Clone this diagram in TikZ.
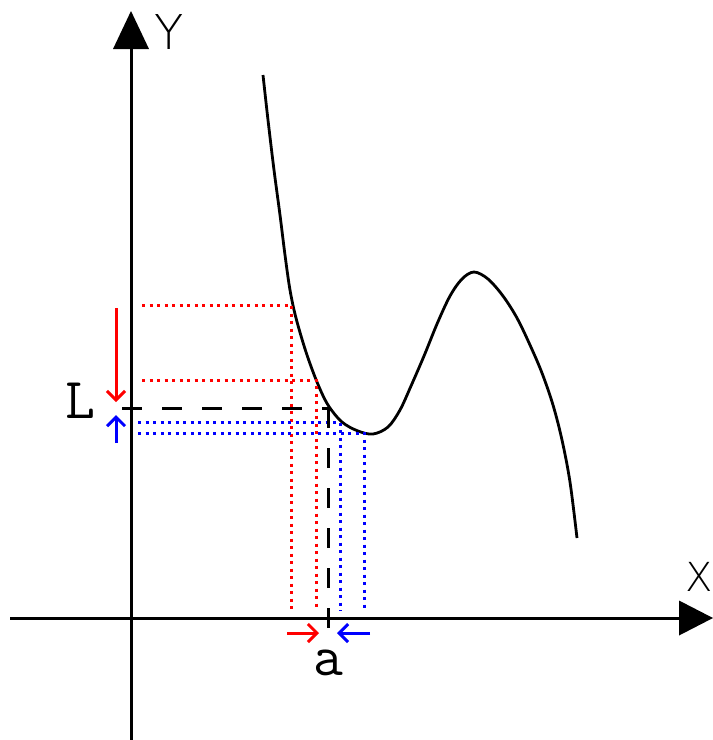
\documentclass[tikz,border=0pt]{standalone}
\usepackage{fontspec}
\newfontfamily\axisfont{DejaVu Sans ExtraLight}
\usetikzlibrary{arrows.meta}
\begin{document}
\begin{tikzpicture}[x=1pt, y=-1pt, line width=3pt, >={Straight Barb[length=9pt,width=18pt]}]
\useasboundingbox (0,0) rectangle (713,740);
\tikzset{
  guide/.style={line width=3pt, dash pattern=on 3pt off 4.5pt},
  limitline/.style={line width=3pt, dash pattern=on 20pt off 20pt},
  axislabel/.style={font=\axisfont\fontsize{48}{48}\selectfont, inner sep=0pt},
  letter/.style={font=\ttfamily\fontsize{58}{58}\selectfont, inner sep=0pt}
}
% axes
\coordinate (ybot) at (131,740);
\coordinate (ytop) at (131,11);
\coordinate (xleft) at (10,618);
\coordinate (xright) at (713,618);
\draw[-{Triangle[length=38pt,width=36pt,line width=0pt]}] (ybot) -- (ytop);
\draw[-{Triangle[length=34pt,width=35pt,line width=0pt]}] (xleft) -- (xright);
\node[axislabel] (ylab) at (169,32) {Y};
\node[axislabel, font=\axisfont\fontsize{40}{40}\selectfont] (xlab) at (699,577) {X};
% the function
\draw[line width=2.8pt] plot[smooth, tension=0.55] coordinates {(263,75) (268,120) (274,170)
  (280,215) (285,255) (290,290) (296,318) (306,352) (317,382) (328,405) (342,422) (358,431)
  (373,434) (388,427) (400,410) (411,386) (424,356) (437,324) (450,296) (462,279) (474,272)
  (488,279) (503,296) (517,318) (530,345) (542,373) (553,405) (562,440) (570,482) (577,538)};
% guides from the y axis to the curve and down
\foreach \c/\x/\y/\s in {red/291/305/142, red/316/380/142, blue/340/422/138, blue/364/433/138}{
  \draw[guide, \c] (\s,\y) -- (\x,\y) -- (\x,611);
}
% limit L at a
\draw[limitline] (122,408) -- (330,408);
\draw[limitline] (328,408) -- (328,628);
\node[letter] (Llab) at (80,401) {L};
\node[letter] (alab) at (328,663) {a};
% approach arrows
\draw[->, red] (116,308) -- (116,402);
\draw[->, blue] (116,443) -- (116,415);
\draw[->, red] (287,633) -- (319,633);
\draw[->, blue] (370,633) -- (337,633);
\end{tikzpicture}
\end{document}
